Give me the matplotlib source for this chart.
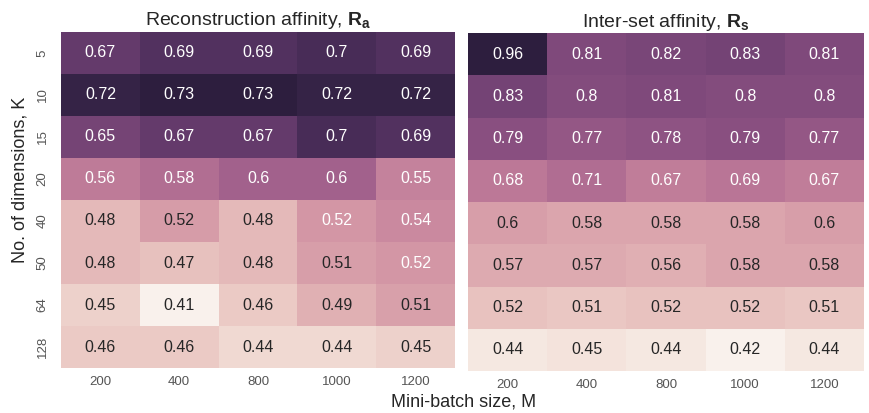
import numpy as np
import matplotlib
matplotlib.use("Agg")
import matplotlib.pyplot as plt
import seaborn as sns

dims = ["5", "10", "15", "20", "40", "50", "64", "128"]
batch = ["200", "400", "800", "1000", "1200"]

recon = [
    [0.67, 0.69, 0.69, 0.70, 0.69],
    [0.72, 0.73, 0.73, 0.72, 0.72],
    [0.65, 0.67, 0.67, 0.70, 0.69],
    [0.56, 0.58, 0.60, 0.60, 0.55],
    [0.48, 0.516, 0.48, 0.524, 0.54],
    [0.48, 0.47, 0.48, 0.514, 0.524],
    [0.45, 0.41, 0.46, 0.49, 0.51],
    [0.46, 0.46, 0.44, 0.44, 0.45],
]
interset = [
    [0.96, 0.81, 0.82, 0.83, 0.81],
    [0.83, 0.80, 0.81, 0.80, 0.80],
    [0.79, 0.77, 0.78, 0.79, 0.77],
    [0.68, 0.71, 0.67, 0.69, 0.67],
    [0.596, 0.58, 0.58, 0.58, 0.597],
    [0.57, 0.57, 0.56, 0.58, 0.58],
    [0.52, 0.51, 0.52, 0.52, 0.51],
    [0.44, 0.45, 0.44, 0.42, 0.44],
]

sns.set_style("white")
plt.rcParams["font.family"] = ["Liberation Sans", "DejaVu Sans"]
plt.rcParams["mathtext.fontset"] = "custom"
plt.rcParams["mathtext.rm"] = "Liberation Sans"
plt.rcParams["mathtext.bf"] = "Liberation Sans:bold"

cmap = sns.cubehelix_palette(light=0.95, dark=0.15, as_cmap=True)

fig = plt.figure(figsize=(8.7, 4.13), dpi=100)
ax1 = fig.add_axes([61 / 870, 1 - 368 / 413, 394 / 870, 336 / 413])
ax2 = fig.add_axes([468 / 870, 1 - 371 / 413, 396 / 870, 338 / 413])

annot_kws = {"fontsize": 11.5}
sns.heatmap(np.array(recon), ax=ax1, cmap=cmap, annot=True, fmt=".2g",
            cbar=False, xticklabels=batch, yticklabels=dims, annot_kws=annot_kws)
sns.heatmap(np.array(interset), ax=ax2, cmap=cmap, annot=True, fmt=".2g",
            cbar=False, xticklabels=batch, yticklabels=False, annot_kws=annot_kws)

for ax in (ax1, ax2):
    ax.tick_params(axis="both", length=0, labelsize=9.5, labelcolor="#555555")
    ax.tick_params(axis="x", pad=6)
    ax.set_xlabel("")
    ax.set_ylabel("")
ax1.tick_params(axis="y", pad=9)
for lbl in ax1.get_yticklabels():
    lbl.set_rotation(90)
    lbl.set_va("center")

ax1.set_title(r"Reconstruction affinity, $\mathbf{R_a}$", fontsize=14, pad=5)
ax2.set_title(r"Inter-set affinity, $\mathbf{R_s}$", fontsize=14, pad=4)

fig.text(464 / 870, 1 - 402 / 413, "Mini-batch size, M", ha="center", va="center", fontsize=13)
fig.text(20 / 870, 1 - 180 / 413, "No. of dimensions, K", ha="center", va="center",
         rotation=90, fontsize=13)

fig.savefig("out.png", dpi=100)
